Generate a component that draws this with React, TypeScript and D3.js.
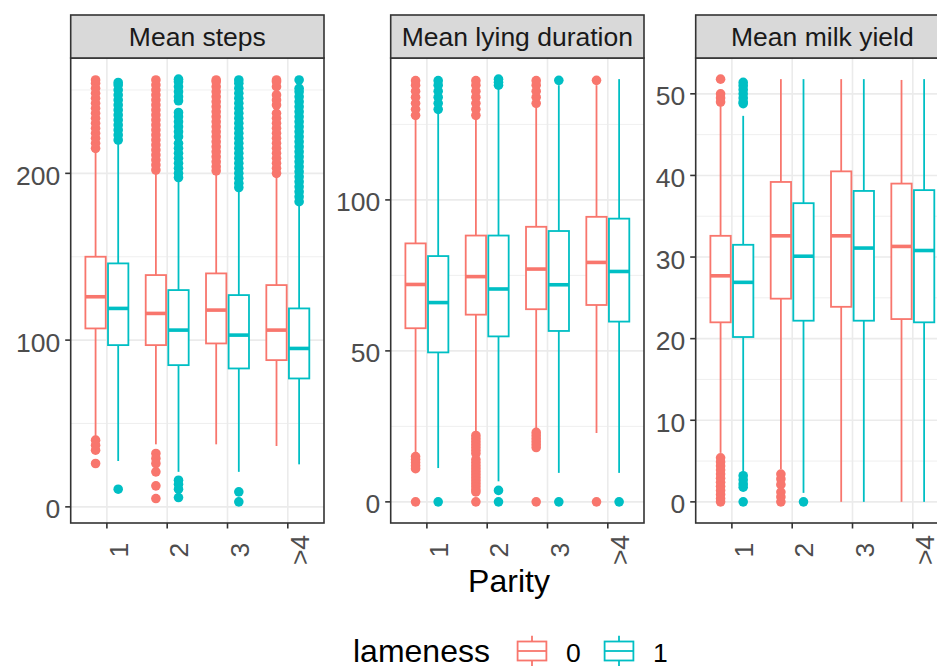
import React, { useEffect, useRef } from 'react';
import * as d3 from 'd3';

const parity = ['1', '2', '3', '>4'];
const lameness = ['0', '1'];
const lamenessColors = ['#F8766D', '#00BFC4'];
const panelTitles = ['Mean steps', 'Mean lying duration', 'Mean milk yield'];

// parity, lameness, lower whisker, q1, median, q3, upper whisker
const stepsStats = [
  ['1', '0', 42, 107, 126, 150, 213],
  ['1', '1', 27.5, 97, 119, 146, 218],
  ['2', '0', 37.5, 97, 116, 139, 200],
  ['2', '1', 21, 85, 106, 130, 196],
  ['3', '0', 37.5, 98, 118, 140, 200],
  ['3', '1', 21, 83, 103, 127, 190],
  ['>4', '0', 36.5, 88, 106, 133, 198],
  ['>4', '1', 25.5, 77, 95, 119, 181],
];

const lyingStats = [
  ['1', '0', 16, 57.5, 72, 85.6, 127],
  ['1', '1', 11.2, 49.5, 66, 81.4, 129],
  ['2', '0', 22.5, 62, 74.6, 88.2, 127],
  ['2', '1', 6.8, 54.8, 70.5, 88.2, 137],
  ['3', '0', 24, 63.8, 77.1, 91.1, 131],
  ['3', '1', 9.6, 56.6, 71.9, 89.7, 138],
  ['>4', '0', 22.8, 65.2, 79.3, 94.4, 138],
  ['>4', '1', 9.6, 59.7, 76.3, 93.8, 140],
];

const milkStats = [
  ['1', '0', 6, 22, 27.7, 32.6, 48.9],
  ['1', '1', 3.6, 20.2, 26.9, 31.5, 47.3],
  ['2', '0', 4, 24.9, 32.6, 39.2, 51.8],
  ['2', '1', 1.1, 22.2, 30.1, 36.6, 51.8],
  ['3', '0', 0, 23.9, 32.6, 40.5, 51.8],
  ['3', '1', 0, 22.2, 31.1, 38.1, 51.8],
  ['>4', '0', 0, 22.4, 31.3, 39, 51.7],
  ['>4', '1', 0, 22, 30.8, 38.2, 51.8],
];

// parity, lameness, outlier values
const stepsOutliers = [
  ['1', '0', [215, 218, 221, 224, 227, 230, 233, 236, 239, 242, 245, 248, 251, 254, 256, 40, 37, 34, 26]],
  ['1', '1', [220, 223, 226, 229, 232, 235, 238, 241, 244, 247, 250, 253, 254.5, 10.6]],
  ['2', '0', [202, 205, 208, 211, 214, 217, 220, 223, 226, 229, 232, 235, 238, 241, 244, 247, 250, 253, 256, 32, 29, 26, 21, 12.6, 5]],
  ['2', '1', [197.5, 200, 203, 206, 209, 212, 215, 218, 222, 225, 228, 231, 234, 236.5, 243.5, 246, 249, 252, 255, 256.5, 16, 13.5, 10.6, 5.6]],
  ['3', '0', [201.5, 204, 207, 210, 213, 216, 219, 222, 225, 228, 231, 234, 237, 240, 243, 246, 249, 252, 255, 256]],
  ['3', '1', [191.5, 194, 197, 200, 203, 206, 209, 212, 215, 218, 221, 224, 227, 230, 233, 236, 239, 242, 245, 248, 251, 254, 256, 9, 3]],
  ['>4', '0', [200, 203, 206, 209, 212, 215, 218, 221, 224, 227, 230, 233, 236, 241, 244, 247, 252, 255, 256]],
  ['>4', '1', [183, 186, 189, 192, 195, 198, 201, 204, 207, 210, 213, 216, 219, 222, 225, 228, 231, 234, 237, 240, 243, 246, 249, 251, 256]],
];

const lyingOutliers = [
  ['1', '0', [128, 130, 132, 134, 136, 138, 139.5, 15, 14, 13, 12, 11, 0]],
  ['1', '1', [130, 132, 134, 136, 138, 139.5, 0]],
  ['2', '0', [128, 130, 132, 134, 136, 138, 139.5, 22, 21, 20, 19, 18, 17, 16, 14, 13, 12, 11, 10, 9, 8, 7, 6, 5, 4, 3.3, 0]],
  ['2', '1', [138, 139, 140, 3.8, 0]],
  ['3', '0', [132, 134, 136, 138, 139.5, 23, 22, 21, 20, 19, 18, 0]],
  ['3', '1', [139.6, 0]],
  ['>4', '0', [139.6, 0]],
  ['>4', '1', [0]],
];

const milkOutliers = [
  ['1', '0', [51.8, 50, 49.5, 49, 5.4, 4.9, 4.4, 3.9, 3.4, 2.9, 2.4, 1.9, 1.4, 0.9, 0.4, 0]],
  ['1', '1', [51.4, 51, 50.5, 50, 49.5, 49, 48.8, 3.2, 2.7, 2.2, 1.8, 0]],
  ['2', '0', [3.4, 2.8, 2.1, 1.2, 0.6, 0]],
  ['2', '1', [0]],
];

const yTicks = [
  [0, 100, 200],
  [0, 50, 100],
  [0, 10, 20, 30, 40, 50],
];

const panels = [
  { title: panelTitles[0], stats: stepsStats, outliers: stepsOutliers, ticks: yTicks[0] },
  { title: panelTitles[1], stats: lyingStats, outliers: lyingOutliers, ticks: yTicks[1] },
  { title: panelTitles[2], stats: milkStats, outliers: milkOutliers, ticks: yTicks[2] },
];

const FONT = '"Liberation Sans", Arial, Helvetica, sans-serif';

const App = () => {
  const ref = useRef(null);

  useEffect(() => {
    const svg = d3.select(ref.current);
    svg.selectAll('*').remove();

    const panelLefts = [70.7, 390.7, 695.7];
    const panelW = 253.3;
    const stripTop = 15, top = 58, bottom = 523;
    const axisFont = 26.5;

    panels.forEach((p, pi) => {
      const left = panelLefts[pi];
      const right = left + panelW;
      const g = svg.append('g');

      const x = d3.scalePoint().domain(parity).range([left, right]).padding(0.6);
      const step = x.step();
      const dodge = d3.scalePoint().domain(lameness).range([-0.1875 * step, 0.1875 * step]);
      const boxW = 0.3375 * step;

      const allVals = [
        ...p.stats.flatMap(s => [s[2], s[6]]),
        ...p.outliers.flatMap(o => o[2]),
      ];
      const [mn, mx] = d3.extent(allVals);
      const pad = (mx - mn) * 0.05;
      const y = d3.scaleLinear().domain([mn - pad, mx + pad]).range([bottom, top]);

      // grid
      const minor = p.ticks.slice(0, -1).map((t, i) => (t + p.ticks[i + 1]) / 2);
      const stepT = p.ticks[1] - p.ticks[0];
      const last = p.ticks[p.ticks.length - 1] + stepT / 2;
      if (last <= y.domain()[1]) minor.push(last);
      g.selectAll('line.minor').data(minor).enter().append('line')
        .attr('x1', left).attr('x2', right)
        .attr('y1', d => y(d)).attr('y2', d => y(d))
        .attr('stroke', '#EBEBEB').attr('stroke-width', 0.8);
      g.selectAll('line.majorY').data(p.ticks).enter().append('line')
        .attr('x1', left).attr('x2', right)
        .attr('y1', d => y(d)).attr('y2', d => y(d))
        .attr('stroke', '#EBEBEB').attr('stroke-width', 1.6);
      g.selectAll('line.majorX').data(parity).enter().append('line')
        .attr('x1', d => x(d)).attr('x2', d => x(d))
        .attr('y1', top).attr('y2', bottom)
        .attr('stroke', '#EBEBEB').attr('stroke-width', 1.6);

      // boxes
      p.stats.forEach(s => {
        const li = lameness.indexOf(s[1]);
        const col = lamenessColors[li];
        const cx = x(s[0]) + dodge(s[1]);
        const out = p.outliers.find(o => o[0] === s[0] && o[1] === s[1]);
        if (out) {
          g.selectAll(null).data(out[2]).enter().append('circle')
            .attr('cx', cx).attr('cy', d => y(d)).attr('r', 4.8)
            .attr('fill', col);
        }
        g.append('line').attr('x1', cx).attr('x2', cx)
          .attr('y1', y(s[5])).attr('y2', y(s[6]))
          .attr('stroke', col).attr('stroke-width', 1.8);
        g.append('line').attr('x1', cx).attr('x2', cx)
          .attr('y1', y(s[3])).attr('y2', y(s[2]))
          .attr('stroke', col).attr('stroke-width', 1.8);
        g.append('rect')
          .attr('x', cx - boxW / 2).attr('width', boxW)
          .attr('y', y(s[5])).attr('height', y(s[3]) - y(s[5]))
          .attr('fill', 'white').attr('stroke', col).attr('stroke-width', 1.8);
        g.append('line').attr('x1', cx - boxW / 2).attr('x2', cx + boxW / 2)
          .attr('y1', y(s[4])).attr('y2', y(s[4]))
          .attr('stroke', col).attr('stroke-width', 3.6);
      });

      // panel border
      g.append('rect').attr('x', left).attr('y', top)
        .attr('width', panelW).attr('height', bottom - top)
        .attr('fill', 'none').attr('stroke', '#333333').attr('stroke-width', 1.6);

      // strip
      g.append('rect').attr('x', left).attr('y', stripTop)
        .attr('width', panelW).attr('height', top - stripTop)
        .attr('fill', '#D9D9D9').attr('stroke', '#333333').attr('stroke-width', 1.6);
      g.append('text').attr('x', left + panelW / 2).attr('y', 45.7)
        .attr('text-anchor', 'middle').attr('font-size', axisFont)
        .attr('fill', '#1A1A1A').text(p.title);

      // y axis
      p.ticks.forEach(t => {
        g.append('line').attr('x1', left - 5.5).attr('x2', left)
          .attr('y1', y(t)).attr('y2', y(t))
          .attr('stroke', '#333333').attr('stroke-width', 1.6);
        g.append('text').attr('x', left - 10.5).attr('y', y(t) + 11.5)
          .attr('text-anchor', 'end').attr('font-size', axisFont)
          .attr('fill', '#4D4D4D').text(t);
      });

      // x axis
      parity.forEach(c => {
        g.append('line').attr('x1', x(c)).attr('x2', x(c))
          .attr('y1', bottom).attr('y2', bottom + 5.5)
          .attr('stroke', '#333333').attr('stroke-width', 1.6);
        g.append('text')
          .attr('transform', `translate(${x(c) + 21}, 550) rotate(-90)`)
          .attr('text-anchor', 'middle').attr('font-size', axisFont)
          .attr('fill', '#4D4D4D').text(c);
      });
    });

    svg.append('text').attr('x', 509).attr('y', 592.3)
      .attr('text-anchor', 'middle').attr('font-size', 32)
      .attr('fill', 'black').text('Parity');

    // legend
    const leg = svg.append('g');
    leg.append('text').attr('x', 353).attr('y', 661.7)
      .attr('font-size', 32).attr('fill', 'black').text('lameness');
    const keyX = d3.scalePoint().domain(lameness).range([532, 619]);
    const kw = 36, kh = 38, kcy = 651;
    lameness.forEach((l, i) => {
      const cx = keyX(l);
      const col = lamenessColors[i];
      leg.append('line').attr('x1', cx).attr('x2', cx)
        .attr('y1', kcy - 0.4 * kh).attr('y2', kcy + 0.4 * kh)
        .attr('stroke', col).attr('stroke-width', 1.8);
      leg.append('rect').attr('x', cx - 0.4 * kw).attr('width', 0.8 * kw)
        .attr('y', kcy - 0.25 * kh).attr('height', 0.5 * kh)
        .attr('fill', 'white').attr('stroke', col).attr('stroke-width', 1.8);
      leg.append('line').attr('x1', cx - 0.4 * kw).attr('x2', cx + 0.4 * kw)
        .attr('y1', kcy).attr('y2', kcy)
        .attr('stroke', col).attr('stroke-width', 1.8);
      leg.append('text').attr('x', cx + kw / 2 + 16).attr('y', 661.5)
        .attr('font-size', 26.5).attr('fill', 'black').text(l);
    });
  });

  return (
    <svg ref={ref} width={937} height={666}
      style={{ position: 'absolute', left: 0, top: 0, display: 'block', background: 'white', fontFamily: FONT }} />
  );
};

export default App;
